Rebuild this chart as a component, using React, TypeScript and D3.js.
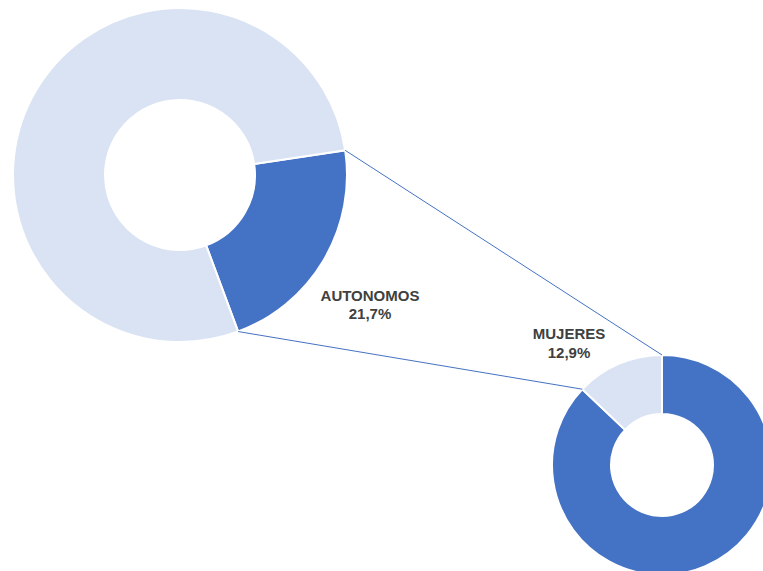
import React from "react";
import * as d3 from "d3";

const mainCategories = ["AUTONOMOS", "RESTO"];
const mainValues = [21.7, 78.3];
const subCategories = ["HOMBRES", "MUJERES"];
const subValues = [87.1, 12.9];
const mainLabel = ["AUTONOMOS", "21,7%"];
const subLabel = ["MUJERES", "12,9%"];

const DARK = "#4472C4";
const LIGHT = "#DAE3F3";
const W = 763;
const H = 571;

export default function App() {
  const deg = Math.PI / 180;
  const big = { cx: 180, cy: 175, R: 167, r: 75 };
  const small = { cx: 662, cy: 465, R: 110, r: 51 };

  const bigStart = 81.5 * deg;
  const bigPie = d3
    .pie<number>()
    .sort(null)
    .startAngle(bigStart)
    .endAngle(bigStart + 2 * Math.PI)(mainValues);
  const smallPie = d3
    .pie<number>()
    .sort(null)
    .startAngle(0)
    .endAngle(2 * Math.PI)(subValues);

  const bigArc = d3.arc<d3.PieArcDatum<number>>().innerRadius(big.r).outerRadius(big.R);
  const smallArc = d3.arc<d3.PieArcDatum<number>>().innerRadius(small.r).outerRadius(small.R);

  const pt = (c: typeof big, a: number) => [c.cx + c.R * Math.sin(a), c.cy - c.R * Math.cos(a)];

  const d0 = bigPie[0];
  const s1 = smallPie[1];
  const line1 = [pt(big, d0.startAngle), pt(small, s1.endAngle)];
  const line2 = [pt(big, d0.endAngle), pt(small, s1.startAngle)];

  const bigColors = [DARK, LIGHT];
  const smallColors = [DARK, LIGHT];

  return (
    <div style={{ position: "absolute", left: 0, top: 0 }}>
      <svg width={W} height={H} style={{ display: "block" }}>
        <rect width={W} height={H} fill="#fff" />
        <g transform={`translate(${big.cx},${big.cy})`}>
          {bigPie.map((d, i) => (
            <path key={mainCategories[i]} d={bigArc(d) || ""} fill={bigColors[i]} stroke="#fff" strokeWidth={2} />
          ))}
        </g>
        <g transform={`translate(${small.cx},${small.cy})`}>
          {smallPie.map((d, i) => (
            <path key={subCategories[i]} d={smallArc(d) || ""} fill={smallColors[i]} stroke="#fff" strokeWidth={2} />
          ))}
        </g>
        {[line1, line2].map((l, i) => (
          <line key={i} x1={l[0][0]} y1={l[0][1]} x2={l[1][0]} y2={l[1][1]} stroke={DARK} strokeWidth={1} />
        ))}
        <g fontFamily="'Liberation Sans', Arial, sans-serif" fontWeight="bold" fontSize={15} fill="#404040" textAnchor="middle">
          <text x={370} y={301}>{mainLabel[0]}</text>
          <text x={370} y={319}>{mainLabel[1]}</text>
          <text x={569} y={339}>{subLabel[0]}</text>
          <text x={569} y={357.5}>{subLabel[1]}</text>
        </g>
      </svg>
    </div>
  );
}
